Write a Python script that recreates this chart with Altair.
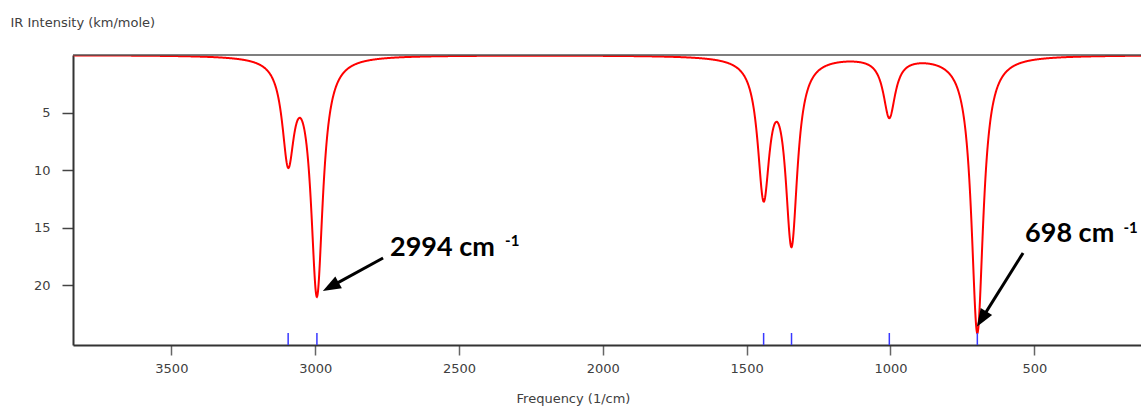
import altair as alt
import numpy as np
import pandas as pd

# Peak list (frequency in 1/cm, intensity in km/mole)
peak_freq = [3094, 2994, 1441, 1344, 1004, 698]
peak_int = [8.6, 20.5, 11.7, 15.9, 5.2, 24.1]
half_width = 25  # Lorentzian half width (1/cm) of the plotted broadening

x_ticks = [3500, 3000, 2500, 2000, 1500, 1000, 500]
y_ticks = [5, 10, 15, 20]

# annotation labels
label_text = ["2994 cm", "698 cm"]
label_freq = [2740, 532]
label_int = [17.45, 16.25]
sup_text = ["-1", "-1"]
sup_freq = [2340, 190]
sup_int = [16.6, 15.5]

# arrows: tail -> head centre
arrow_freq = [2764, 539]
arrow_int = [17.64, 17.2]
arrow_freq2 = [2946, 683]
arrow_int2 = [20.13, 22.95]

X_DOMAIN = [129, 3842]
Y_DOMAIN = [0, 25.2]

# broadened spectrum built from the peak list
grid = np.arange(X_DOMAIN[0], X_DOMAIN[1] + 1, 1.0)
spec = np.zeros_like(grid)
for f, a in zip(peak_freq, peak_int):
    spec += a * half_width**2 / ((grid - f) ** 2 + half_width**2)
spectrum = pd.DataFrame({"freq": grid, "inten": spec})
peaks = pd.DataFrame({"freq": peak_freq, "inten": peak_int})
labels = pd.DataFrame({"freq": label_freq, "inten": label_int, "text": label_text})
sups = pd.DataFrame({"freq": sup_freq, "inten": sup_int, "text": sup_text})
arrows = pd.DataFrame({"freq": arrow_freq, "inten": arrow_int,
                       "freq2": arrow_freq2, "inten2": arrow_int2})

xscale = alt.Scale(domain=X_DOMAIN, reverse=True, nice=False, zero=False)
yscale = alt.Scale(domain=Y_DOMAIN, reverse=True, nice=False, zero=False)

label_color = "#404040"
axis_font = "DejaVu Sans"

x_axis = alt.Axis(
    values=x_ticks, format="d", grid=False, domainColor="#333333", domainWidth=2,
    tickColor="#666666", tickWidth=1.5, tickSize=10, labelPadding=7,
    labelFont=axis_font, labelFontSize=13, labelColor=label_color,
    title="Frequency (1/cm)", titleFont=axis_font, titleFontSize=13,
    titleFontWeight="normal", titleColor=label_color, titleX=500, titleY=53,
    titleAlign="center", titleBaseline="middle",
)
y_axis = alt.Axis(
    values=y_ticks, format="d", grid=False, domainColor="#333333", domainWidth=2,
    tickColor="#444444", tickWidth=1.5, tickSize=11, labelPadding=12,
    labelFont=axis_font, labelFontSize=13, labelColor=label_color,
    title="IR Intensity (km/mole)", titleFont=axis_font, titleFontSize=13,
    titleFontWeight="normal", titleColor=label_color, titleAngle=0,
    titleX=-63, titleY=-33, titleAlign="left", titleBaseline="middle",
)

top_line = alt.Chart(pd.DataFrame({"inten": [0]})).mark_rule(
    color="#555555", strokeWidth=1.5
).encode(y=alt.Y("inten:Q", scale=yscale))

line = alt.Chart(spectrum).mark_line(color="#ff0000", strokeWidth=2, clip=True).encode(
    x=alt.X("freq:Q", scale=xscale, axis=x_axis),
    y=alt.Y("inten:Q", scale=yscale, axis=y_axis),
    order="freq:Q",
)

ticks = alt.Chart(peaks).mark_rule(color="#3838ff", strokeWidth=1.5).encode(
    x=alt.X("freq:Q", scale=xscale),
    y=alt.value(278),
    y2=alt.value(290),
)

arrow_lines = alt.Chart(arrows).mark_rule(color="black", strokeWidth=3).encode(
    x=alt.X("freq:Q", scale=xscale),
    y=alt.Y("inten:Q", scale=yscale),
    x2="freq2:Q",
    y2="inten2:Q",
)

head_path = "M0,-1L0.75,1L-0.75,1Z"
head1 = alt.Chart(arrows.iloc[[0]]).mark_point(
    shape=head_path, size=324, filled=True, color="black", opacity=1, angle=241
).encode(x=alt.X("freq2:Q", scale=xscale), y=alt.Y("inten2:Q", scale=yscale))
head2 = alt.Chart(arrows.iloc[[1]]).mark_point(
    shape=head_path, size=324, filled=True, color="black", opacity=1, angle=212
).encode(x=alt.X("freq2:Q", scale=xscale), y=alt.Y("inten2:Q", scale=yscale))

text_main = alt.Chart(labels).mark_text(
    font="Lato", fontWeight="bold", fontSize=27, color="black",
    align="left", baseline="alphabetic"
).encode(x=alt.X("freq:Q", scale=xscale), y=alt.Y("inten:Q", scale=yscale), text="text:N")

text_sup = alt.Chart(sups).mark_text(
    font="Lato", fontWeight="bold", fontSize=15, color="black",
    align="left", baseline="alphabetic"
).encode(x=alt.X("freq:Q", scale=xscale), y=alt.Y("inten:Q", scale=yscale), text="text:N")

chart = alt.layer(
    line, top_line, ticks, arrow_lines, head1, head2, text_main, text_sup
).properties(
    width=1068, height=290,
    autosize=alt.AutoSizeParams(type="none"),
    padding={"left": 73, "top": 55, "right": 0, "bottom": 61},
    background="white",
).configure_view(stroke=None)

chart.save("out.html", embed_options={"renderer": "svg", "actions": False})
